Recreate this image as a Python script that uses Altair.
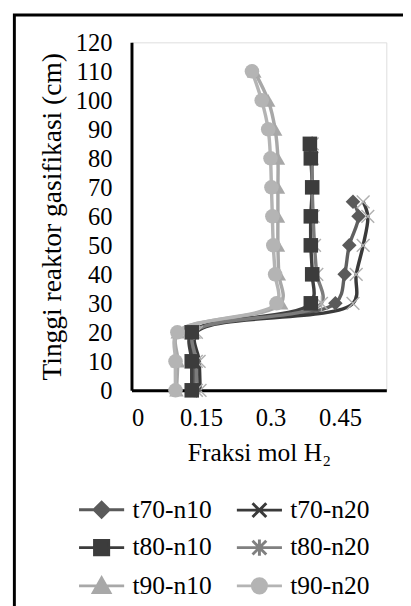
import altair as alt
import pandas as pd

# ---- data ----
series_names = ["t70-n10", "t70-n20", "t80-n10", "t80-n20", "t90-n10", "t90-n20"]

heights_70 = [0, 10, 20, 30, 40, 50, 60, 65]
t70_n10 = [0.135, 0.135, 0.13, 0.44, 0.46, 0.47, 0.49, 0.478]
t70_n20 = [0.148, 0.146, 0.14, 0.478, 0.485, 0.50, 0.51, 0.50]

heights_80 = [0, 10, 20, 30, 40, 50, 60, 70, 80, 85]
t80_n10 = [0.13, 0.13, 0.13, 0.387, 0.39, 0.387, 0.387, 0.39, 0.387, 0.385]
t80_n20 = [0.14, 0.14, 0.135, 0.41, 0.40, 0.395, 0.392, 0.39, 0.39, 0.39]

heights_90 = [0, 10, 20, 30, 40, 50, 60, 70, 80, 90, 100, 110]
t90_n10 = [0.097, 0.10, 0.10, 0.323, 0.318, 0.316, 0.316, 0.316, 0.316, 0.31, 0.295, 0.265]
t90_n20 = [0.095, 0.095, 0.099, 0.313, 0.31, 0.306, 0.304, 0.302, 0.30, 0.295, 0.281, 0.26]

x_ticks = [0, 0.15, 0.3, 0.45]
y_ticks = list(range(0, 121, 10))

# ---- styles ----
line_colors = ["#606060", "#3a3a3a", "#404040", "#7c7c7c", "#a8a8a8", "#b4b4b4"]
legend_colors = ["#5a5a5a", "#3a3a3a", "#3c3c3c", "#808080", "#a8a8a8", "#b4b4b4"]
marker_shapes = [
    "diamond",
    "M-1,-1L1,1M-1,1L1,-1",
    "square",
    "M-1,-1L1,1M-1,1L1,-1M0,-1.2L0,1.2",
    "triangle-up",
    "circle",
]
legend_shapes = [
    "M-1.15,0L1.15,0M0,-0.38L0.38,0L0,0.38L-0.38,0Z",
    "M-1.15,0L1.15,0M-0.35,-0.35L0.35,0.35M-0.35,0.35L0.35,-0.35",
    "M-1.15,0L1.15,0M-0.36,-0.36L0.36,-0.36L0.36,0.36L-0.36,0.36Z",
    "M-1.15,0L1.15,0M-0.35,-0.35L0.35,0.35M-0.35,0.35L0.35,-0.35M0,-0.42L0,0.42",
    "M-1.15,0L1.15,0M0,-0.4L0.42,0.34L-0.42,0.34Z",
    "M-1.15,0L1.15,0M0.36,0A0.36,0.36 0 1,1 -0.36,0A0.36,0.36 0 1,1 0.36,0Z",
]

rows = []
for name, hs, xs in [
    ("t70-n10", heights_70, t70_n10),
    ("t70-n20", heights_70, t70_n20),
    ("t80-n10", heights_80, t80_n10),
    ("t80-n20", heights_80, t80_n20),
    ("t90-n10", heights_90, t90_n10),
    ("t90-n20", heights_90, t90_n20),
]:
    for h, v in zip(hs, xs):
        rows.append({"Series": name, "h": h, "x": v})
df = pd.DataFrame(rows)

FONT = "Liberation Serif, Times New Roman, DejaVu Serif, serif"

x_enc = alt.X(
    "x:Q",
    scale=alt.Scale(domain=[0, 0.55], nice=False),
    axis=alt.Axis(
        values=x_ticks, title="Fraksi mol H₂", grid=False, ticks=False,
        domainColor="black", domainWidth=3, labelFont=FONT, labelFontSize=25,
        labelColor="black", labelPadding=16, titleFont=FONT, titleFontSize=26,
        titleFontWeight="normal", titleColor="black", titlePadding=10,
        labelOverlap=False,
        labelExpr="datum.value == 0 ? '0' : format(datum.value, '.2~f')",
    ),
)
y_enc = alt.Y(
    "h:Q",
    scale=alt.Scale(domain=[0, 120], nice=False),
    axis=alt.Axis(
        values=y_ticks, title="Tinggi reaktor gasifikasi (cm)", grid=False, ticks=False,
        domainColor="black", domainWidth=3, labelFont=FONT, labelFontSize=25,
        labelColor="black", labelPadding=20, titleFont=FONT, titleFontSize=28,
        titleFontWeight="normal", titleColor="black", titlePadding=9,
        labelOverlap=False,
    ),
)

base = alt.Chart(df)

lines = base.mark_line(interpolate="catmull-rom", strokeWidth=3.5).encode(
    x=x_enc, y=y_enc,
    color=alt.Color("Series:N", scale=alt.Scale(domain=series_names, range=line_colors), legend=None),
    order=alt.Order("h:Q"),
)

filled_pts = base.transform_filter(
    alt.FieldOneOfPredicate(field="Series", oneOf=["t70-n10", "t80-n10", "t90-n10", "t90-n20"])
).mark_point(filled=True, size=220, opacity=1).encode(
    x=x_enc, y=y_enc,
    color=alt.Color("Series:N", scale=alt.Scale(domain=series_names, range=legend_colors), legend=None),
    shape=alt.Shape("Series:N", scale=alt.Scale(domain=series_names, range=marker_shapes), legend=None),
)

stroke_pts = base.transform_filter(
    alt.FieldOneOfPredicate(field="Series", oneOf=["t70-n20", "t80-n20"])
).mark_point(filled=False, size=170, strokeWidth=1.5, opacity=1, color="#b0b0b0").encode(
    x=x_enc, y=y_enc,
    shape=alt.Shape("Series:N", scale=alt.Scale(domain=series_names, range=marker_shapes), legend=None),
)

legend_props = dict(
    title=None, orient="none", legendX=-52, legendY=455, columns=2, direction="horizontal",
    labelFont=FONT, labelFontSize=26, labelColor="black", labelOffset=10,
    symbolSize=1600, symbolStrokeWidth=3, symbolOpacity=1, columnPadding=19, rowPadding=3,
    padding=0, labelLimit=200,
)
legend_layer = base.transform_filter("datum.h == 0").mark_point(filled=True, opacity=0).encode(
    x=x_enc, y=y_enc,
    fill=alt.Fill("Series:N", scale=alt.Scale(domain=series_names, range=legend_colors), legend=alt.Legend(**legend_props)),
    stroke=alt.Stroke("Series:N", scale=alt.Scale(domain=series_names, range=legend_colors), legend=alt.Legend(**legend_props)),
    shape=alt.Shape("Series:N", scale=alt.Scale(domain=series_names, range=legend_shapes), legend=alt.Legend(**legend_props)),
)

frame = alt.Chart(pd.DataFrame({"k": [0]})).mark_rect(
    fill=None, stroke="black", strokeWidth=3
).encode(
    x=alt.value(-119.5), x2=alt.value(400), y=alt.value(-28), y2=alt.value(800),
)

chart = alt.layer(frame, lines, stroke_pts, filled_pts, legend_layer).resolve_scale(
    shape="independent", color="independent", fill="independent", stroke="independent"
).properties(
    width=260, height=355,
    autosize=alt.AutoSizeParams(type="none"),
    padding={"left": 126, "top": 29, "right": 17, "bottom": 214},
).configure_view(stroke=None).configure_axis(labelOverlap=False).configure(background="white")

chart.save("out.html", embed_options={"renderer": "svg", "actions": False})
